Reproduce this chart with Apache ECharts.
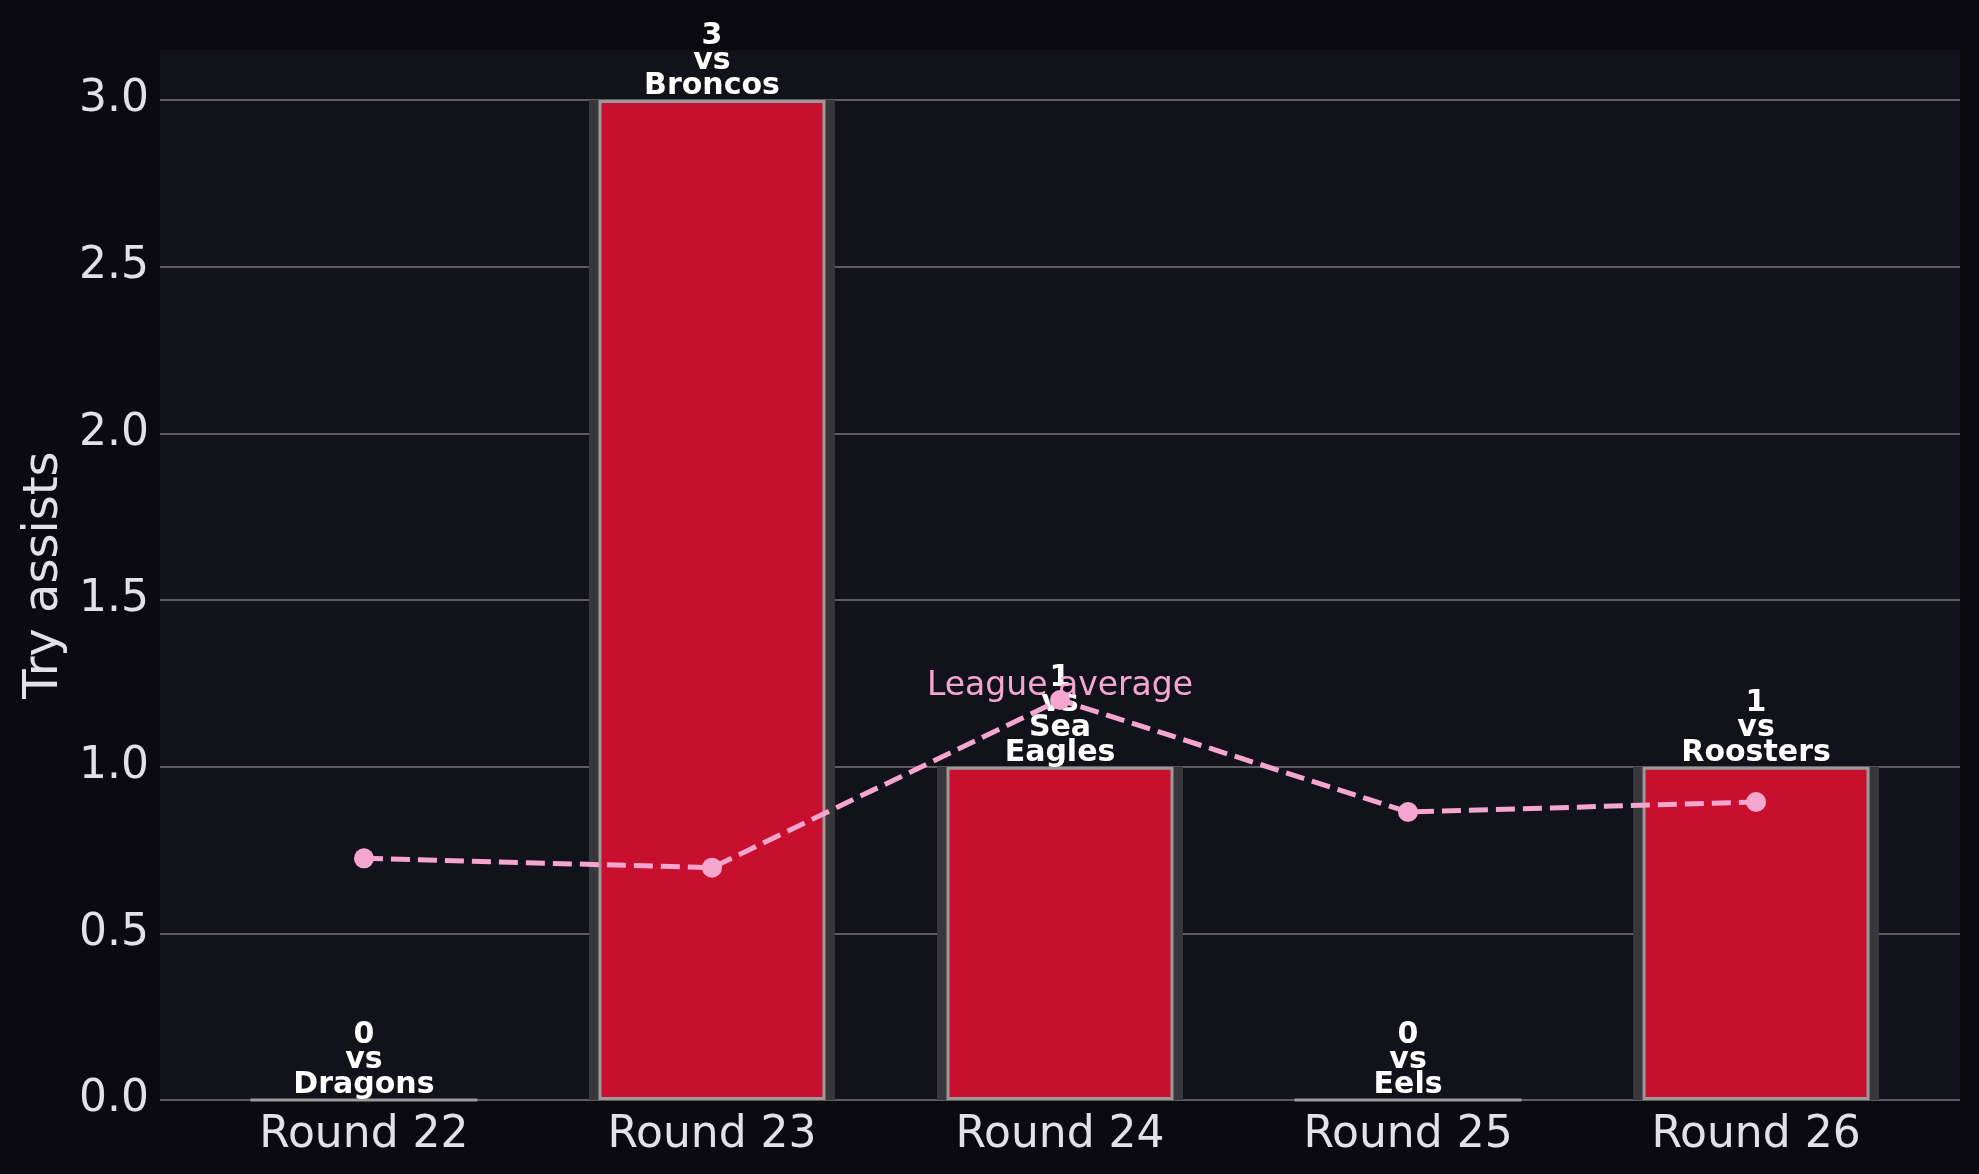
<!DOCTYPE html>
<html>
<head>
<meta charset="utf-8">
<script src="https://cdn.jsdelivr.net/npm/echarts@6/dist/echarts.min.js"></script>
<style>
html,body{margin:0;padding:0;background:#0b0b0f;}
#chart{width:1979px;height:1174px;}
</style>
</head>
<body>
<div id="chart"></div>
<script>
const rounds = ["Round 22", "Round 23", "Round 24", "Round 25", "Round 26"];
const opponents = ["Dragons", "Broncos", "Sea Eagles", "Eels", "Roosters"];
const tryAssists = [0, 3, 1, 0, 1];
const leagueAverage = [0.725, 0.697, 1.20, 0.864, 0.894];
const yTicks = [0, 0.5, 1.0, 1.5, 2.0, 2.5, 3.0];

const FONT = "DejaVu Sans";
const PINK = "#f5a6cf";
const maxAvgIdx = leagueAverage.indexOf(Math.max(...leagueAverage));

const chart = echarts.init(document.getElementById('chart'), null, {renderer: 'canvas'});

const xCommon = {
  type: 'value', min: -0.586, max: 4.586,
  splitLine: {show: false}, axisLine: {show: false}, axisTick: {show: false}
};

chart.setOption({
  backgroundColor: '#0b0b0f',
  animation: false,
  grid: {left: 160, right: 19, top: 50, bottom: 74, show: true, backgroundColor: '#12131a', borderWidth: 0},
  xAxis: [
    Object.assign({}, xCommon, {
      axisLabel: {
        customValues: rounds.map((r, i) => i),
        formatter: v => rounds[Math.round(v)],
        color: '#e2e2e6', fontSize: 44, fontFamily: FONT, margin: 14
      }
    }),
    Object.assign({}, xCommon, {show: false})
  ],
  yAxis: {
    type: 'value', min: 0, max: 3.15, interval: 0.5,
    name: 'Try assists', nameLocation: 'middle', nameGap: 89,
    nameTextStyle: {color: '#e2e2e6', fontSize: 48, fontFamily: FONT},
    axisLine: {show: false}, axisTick: {show: false},
    axisLabel: {
      color: '#e2e2e6', fontSize: 44, fontFamily: FONT, margin: 11,
      showMaxLabel: false,
      formatter: v => (yTicks.some(t => Math.abs(t - v) < 1e-9) ? v.toFixed(1) : '')
    },
    splitLine: {show: true, showMaxLine: false, lineStyle: {color: '#5c5c62', width: 2}}
  },
  series: [
    {
      name: 'shadow', type: 'bar', xAxisIndex: 1, barWidth: 246, z: 1,
      itemStyle: {color: '#37373c'},
      data: tryAssists.map((v, i) => [i, v]),
      silent: true
    },
    {
      name: 'Try assists', type: 'bar', xAxisIndex: 0, barWidth: 227, z: 2,
      itemStyle: {color: '#c8102e', borderColor: '#9a9a9a', borderWidth: 3},
      data: tryAssists.map((v, i) => [i, v]),
      label: {
        show: true, position: 'top', distance: 1,
        color: '#ffffff', fontWeight: 'bold', fontSize: 30, lineHeight: 25, fontFamily: FONT,
        formatter: p => tryAssists[p.dataIndex] + '\nvs\n' + opponents[p.dataIndex].replace(/ /g, '\n')
      }
    },
    {
      name: 'League average', type: 'line', xAxisIndex: 0, z: 5,
      symbol: 'circle', symbolSize: 20,
      lineStyle: {color: PINK, width: 5, type: [19, 8]},
      itemStyle: {color: PINK},
      data: leagueAverage.map((v, i) => {
        const d = {value: [i, v]};
        if (i === maxAvgIdx) {
          d.label = {
            show: true, position: 'top', distance: 0, offset: [0, 13],
            formatter: 'League average', color: PINK, fontSize: 33, fontFamily: FONT
          };
        }
        return d;
      })
    }
  ]
});
</script>
</body>
</html>
